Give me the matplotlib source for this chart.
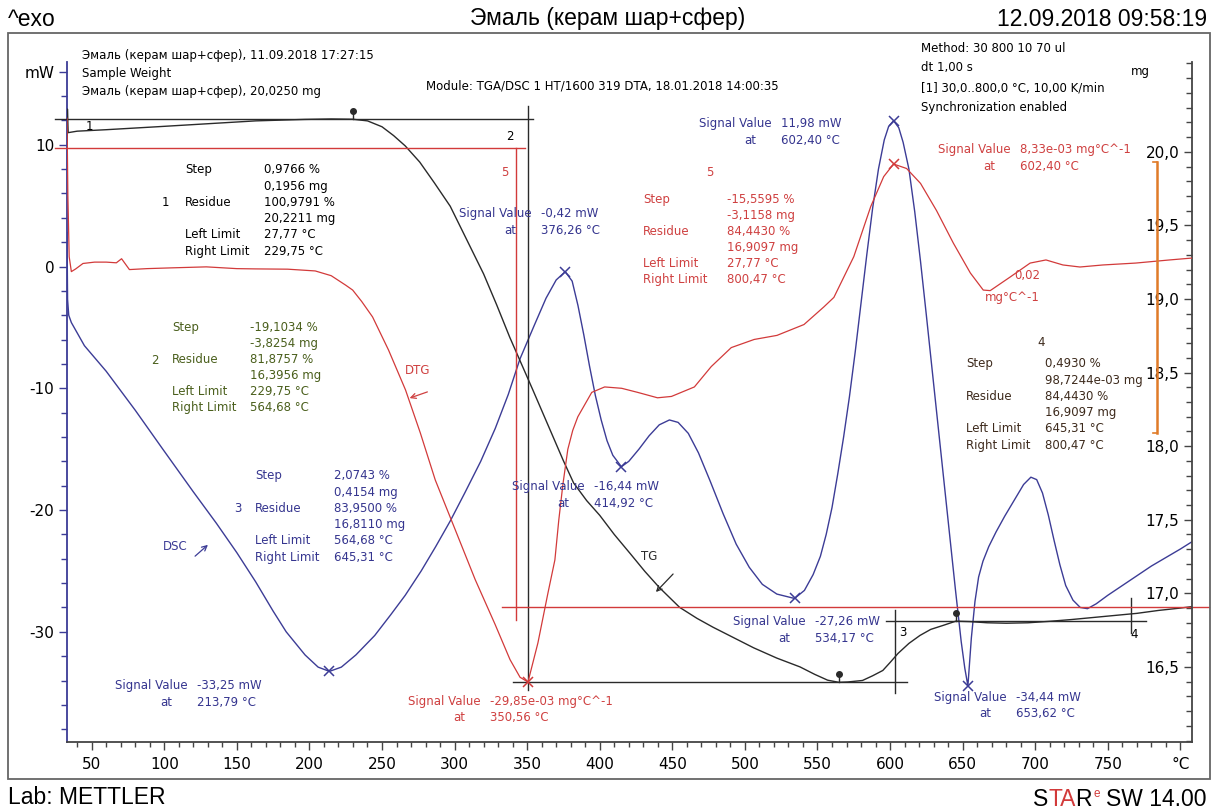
import numpy as np
import matplotlib
matplotlib.use('Agg')
import matplotlib.pyplot as plt
from matplotlib.patches import FancyArrowPatch
from matplotlib.ticker import MultipleLocator, FixedLocator

W, H = 1217, 810

### curve data
# DSC heat flow, mW
dsc_t = [33.0, 33.4, 34.2, 36.0, 45, 60, 80, 99, 120, 136, 150, 163, 175, 184, 197, 206,
         213.79, 222, 232, 245, 256, 266, 277, 287, 297, 307, 318, 328, 337, 345, 355, 363,
         370, 376.26, 381, 385, 389, 393, 397, 401, 405, 409, 414.92, 420, 427, 434, 441,
         448, 454, 461, 468, 476, 485, 494, 503, 512, 522, 534.17, 541, 547, 552, 556, 560,
         564, 568, 572, 576, 580, 584, 588, 592, 596, 599, 602.40, 606, 609, 613, 617, 621,
         625, 629, 633, 637, 641, 645, 649, 651.5, 653.62, 656, 658.5, 661, 664, 668, 673,
         679, 686, 692, 697, 701, 705, 709, 713, 717, 721, 726, 731, 736, 742, 750, 760,
         770, 780, 790, 800, 808]
dsc_mw = [2.8, -2.7, -4.0, -4.6, -6.5, -8.6, -11.8, -15.0, -18.5, -21.1, -23.5, -25.9,
          -28.3, -30.0, -31.9, -32.9, -33.25, -32.9, -31.9, -30.3, -28.6, -27.0, -25.0, -23.0,
          -20.9, -18.6, -16.0, -13.3, -10.5, -7.6, -4.8, -2.6, -1.1, -0.42, -1.2, -3.2, -5.6,
          -8.2, -10.6, -12.6, -14.3, -15.5, -16.44, -16.0, -15.0, -13.9, -13.0, -12.6, -12.8,
          -13.7, -15.3, -17.6, -20.3, -22.8, -24.7, -26.1, -26.9, -27.26, -26.6, -25.3,
          -23.8, -22.0, -19.8, -17.0, -14.0, -10.7, -7.0, -3.0, 1.0, 4.8, 8.0, 10.4, 11.5,
          11.98, 11.4, 10.2, 8.0, 4.5, 0.4, -4.0, -8.5, -13.0, -17.5, -22.0, -26.5, -30.8,
          -33.0, -34.44, -30.5, -27.5, -25.5, -24.2, -23.0, -21.8, -20.5, -19.1, -17.9,
          -17.3, -17.5, -18.6, -20.4, -22.5, -24.5, -26.2, -27.4, -28.0, -28.1, -27.7,
          -27.0, -26.2, -25.4, -24.6, -23.9, -23.2, -22.6]

# TG sample weight, mg
tg_t = [33.0, 33.3, 33.8, 40, 60, 95, 129, 163, 197, 215, 229.75, 240, 250, 258, 266, 276,
        286, 297, 308, 320, 329, 338, 346, 354, 361, 368, 375, 382, 391, 400, 410, 421, 431,
        441, 455, 467, 478, 492, 506, 522, 538, 548, 557, 564.68, 571, 581, 588, 595, 600,
        605.5, 613, 620.6, 628, 636.5, 645.31, 655, 667, 680, 695, 710, 725, 740, 755, 770,
        785, 800, 808]
tg_mg = [19.96, 20.29, 20.13, 20.14, 20.15, 20.17, 20.19, 20.21, 20.22, 20.223, 20.2211,
         20.21, 20.17, 20.11, 20.04, 19.93, 19.79, 19.63, 19.41, 19.17, 18.96, 18.74, 18.56,
         18.38, 18.22, 18.06, 17.90, 17.75, 17.63, 17.53, 17.40, 17.27, 17.15, 17.04, 16.905,
         16.83, 16.77, 16.70, 16.63, 16.56, 16.50, 16.45, 16.41, 16.3956, 16.398, 16.408,
         16.44, 16.476, 16.53, 16.592, 16.66, 16.714, 16.755, 16.782, 16.811, 16.808,
         16.800, 16.797, 16.800, 16.810, 16.822, 16.836, 16.850, 16.864, 16.884, 16.900,
         16.9097]

# DTG, 1e-03 mg/degC
dtg_t = [33.0, 33.6, 34.5, 36.0, 39, 44, 52, 60, 67, 70.6, 76, 88, 106, 129, 150, 163, 185,
         204, 215, 225, 229.8, 236, 243.5, 254.5, 266.2, 276.4, 286.7, 300.5, 314.2, 327.9,
         338.2, 345.1, 350.56, 357.4, 364.3, 369.1, 371.8, 374.6, 378.0, 381.4, 384.9,
         394.5, 403.4, 415.1, 426.1, 439.8, 449.4, 465.2, 476.8, 490.6, 506.4, 522.1, 540.7,
         554.4, 561.3, 575.0, 586.7, 595.6, 602.40, 611.4, 621.0, 632.0, 643.6, 655.3,
         664.2, 669.0, 682.7, 696.5, 707.4, 719.1, 730.8, 746.6, 769.2, 792.5, 808]
dtg_v = [11.7, 6.0, 1.5, 0.4, 0.6, 1.0, 1.1, 1.1, 1.05, 1.35, 0.55, 0.62, 0.68, 0.75, 0.62,
         0.6, 0.58, 0.45, 0.1, -0.6, -0.96, -1.8, -2.94, -5.38, -8.32, -11.49, -14.96,
         -18.64, -22.3, -25.6, -28.2, -29.5, -29.85, -26.97, -23.3, -20.85, -17.9, -15.3,
         -12.7, -11.3, -10.3, -8.5, -8.1, -8.2, -8.5, -8.9, -8.8, -8.1, -6.6, -5.2, -4.6,
         -4.3, -3.5, -2.2, -1.5, 1.5, 5.2, 7.4, 8.33, 8.0, 6.9, 4.9, 2.5, 0.3, -0.96, -1.0,
         0.0, 1.03, 1.26, 0.89, 0.74, 0.89, 1.03, 1.26, 1.4]

# evaluated extremes
dsc_pk_t = [213.79, 376.26, 414.92, 534.17, 602.40, 653.62]
dsc_pk_mw = [-33.25, -0.42, -16.44, -27.26, 11.98, -34.44]
dtg_pk_t = [350.56, 602.40]
dtg_pk_v = [-29.85, 8.33]

# step limits on TG
lim_t = [229.75, 564.68, 645.31]
lim_mg = [20.2211, 16.3956, 16.8110]

# step levels, mg
lvl_start = 20.025
lvl_1 = 20.2211
lvl_2 = 16.3956
lvl_3 = 16.8110
lvl_5 = 16.9097

c_dsc = '#3c3c96'
c_tg = '#2a2a2a'
c_dtg = '#d23a3a'
c_blue = '#35358f'
c_green = '#4a5f1c'
c_brown = '#3d2a1c'
c_red = '#cf4040'


def px(x, y):
    return x / W, 1 - y / H


fig = plt.figure(figsize=(W / 100, H / 100), dpi=100)
plt.rcParams['font.family'] = 'DejaVu Sans'

ax = fig.add_axes([67 / W, 68 / H, 1125 / W, 680 / H])
ax2 = ax.twinx()
ax3 = ax.twinx()

ax.set_xlim(33, 808)
ax.set_ylim(-39.05, 16.8)
ax2.set_ylim(15.99, 20.61)
ax3.set_ylim(-34.27, 15.85)
ax3.axis('off')

for a in (ax, ax2):
    a.spines['top'].set_visible(False)
ax.spines['right'].set_visible(False)
ax.spines['left'].set_color(c_dsc)
ax.spines['left'].set_linewidth(1.3)
ax.spines['bottom'].set_color('#444444')
ax.spines['bottom'].set_linewidth(1.3)
ax2.spines['right'].set_color('#444444')
ax2.spines['right'].set_linewidth(1.3)
ax2.spines['left'].set_visible(False)
ax2.spines['bottom'].set_visible(False)

# x axis
xt = list(range(50, 801, 50))
ax.set_xticks(xt)
ax.set_xticklabels([str(v) for v in xt[:-1]] + ['°C'])
ax.xaxis.set_minor_locator(MultipleLocator(10))
ax.tick_params(axis='x', which='major', length=6, width=1, color='#444444', labelsize=11, pad=5)
ax.tick_params(axis='x', which='minor', length=3.5, width=1, color='#444444')

# left axis, mW
ax.set_yticks([-30, -20, -10, 0, 10, 16])
ax.set_yticklabels(['-30', '-20', '-10', '0', '10', 'mW'])
ax.yaxis.set_minor_locator(FixedLocator(np.arange(-38, 17, 2)))
ax.tick_params(axis='y', which='major', length=6, width=1, color=c_dsc, labelsize=11, pad=3)
ax.tick_params(axis='y', which='minor', length=4, width=1, color=c_dsc)

# right axis, mg (labels inside)
rt = np.arange(16.5, 20.01, 0.5)
ax2.set_yticks(rt)
ax2.set_yticklabels([('%.1f' % v).replace('.', ',') for v in rt])
ax2.yaxis.set_minor_locator(FixedLocator(np.arange(16.0, 20.65, 0.1)))
ax2.tick_params(axis='y', which='major', direction='in', length=6, width=1, color='#444444',
                labelsize=11, pad=-9)
ax2.tick_params(axis='y', which='minor', direction='in', length=4, width=1, color='#444444')
for lab in ax2.get_yticklabels():
    lab.set_horizontalalignment('right')

# curves
ax.plot(dsc_t, dsc_mw, color=c_dsc, lw=1.0)
ax2.plot(tg_t, tg_mg, color=c_tg, lw=1.0)
ax3.plot(dtg_t, dtg_v, color=c_dtg, lw=0.9)

ax.plot(dsc_pk_t, dsc_pk_mw, ls='none', marker='x', ms=7, mew=1.1, color=c_dsc)
ax3.plot(dtg_pk_t, dtg_pk_v, ls='none', marker='x', ms=7, mew=1.1, color=c_dtg)

# pins at step limits
for t, m in zip(lim_t, lim_mg):
    ax2.plot([t, t], [m, m + 0.05], color=c_tg, lw=1.0)
    ax2.plot([t], [m + 0.055], marker='o', ms=4, color=c_tg)

# step evaluation lines
ax2.plot([25, 354], [lvl_1, lvl_1], color=c_tg, lw=1.0, clip_on=False)
ax2.plot([350.56, 350.56], [20.31, 16.34], color=c_tg, lw=1.0)
ax2.plot([340, 612], [lvl_2, lvl_2], color=c_tg, lw=1.0)
ax2.plot([603.4, 603.4], [16.885, 16.32], color=c_tg, lw=1.0)
ax2.plot([597, 776], [lvl_3, lvl_3], color=c_tg, lw=1.0)
ax2.plot([766, 766], [16.97, 16.73], color=c_tg, lw=1.0)
ax2.plot([25, 348.5], [lvl_start, lvl_start], color=c_dtg, lw=1.0, clip_on=False)
ax2.plot([342, 342], [lvl_start, 16.82], color=c_dtg, lw=1.0)
ax2.plot([333, 820], [lvl_5, lvl_5], color=c_dtg, lw=1.0, clip_on=False)

# DTG scale bar, 0.02 mg/degC
bar_top = 8.48
ax3.plot([784, 784], [bar_top, bar_top - 20], color='#e07b28', lw=1.8)
ax3.plot([781, 784], [bar_top, bar_top], color='#e07b28', lw=1.2)
ax3.plot([781, 784], [bar_top - 20, bar_top - 20], color='#e07b28', lw=1.2)

# frame and page texts
fig.add_artist(plt.Rectangle(px(8, 779), (1210 - 8) / W, (779 - 33) / H, fill=False,
                             lw=1.3, ec='#666666', transform=fig.transFigure))
hsz = 16.5
hf = dict(family='Liberation Sans', fontsize=hsz)
fig.text(*px(8, 19), '^exo', ha='left', va='center', **hf)
fig.text(*px(608, 19), 'Эмаль (керам шар+сфер)', ha='center', va='center', **hf)
fig.text(*px(1207, 19), '12.09.2018 09:58:19', ha='right', va='center', **hf)
fig.text(*px(8, 809), 'Lab: METTLER', ha='left', va='bottom', **hf)

# STARe logo text, laid out right to left
r = fig.canvas.get_renderer()
xr = 1206
for s, c, sz, dy, gap in [('SW 14.00', 'black', hsz, 0, 6), ('e', '#d23a3a', 8.5, -9, 1),
                          ('R', 'black', hsz, 0, 0), ('TA', '#d23a3a', hsz, 0, 0),
                          ('S', 'black', hsz, 0, 0)]:
    tx = fig.text(*px(xr, 806 + dy), s, ha='right', va='baseline', color=c,
                  family='Liberation Sans', fontsize=sz)
    xr -= tx.get_window_extent(r).width + gap

fs = 8.5


def t(x, y, s, c='black', ha='left'):
    fig.text(*px(x, y), s, color=c, ha=ha, va='center', fontsize=fs)


t(82, 55, 'Эмаль (керам шар+сфер), 11.09.2018 17:27:15')
t(82, 73, 'Sample Weight')
t(82, 92, 'Эмаль (керам шар+сфер), 20,0250 mg')
t(426, 86, 'Module: TGA/DSC 1 HT/1600 319 DTA, 18.01.2018 14:00:35')
t(921, 48, 'Method: 30 800 10 70 ul')
t(921, 68, 'dt 1,00 s')
t(921, 88, '[1] 30,0..800,0 °C, 10,00 K/min')
t(921, 107, 'Synchronization enabled')
t(1150, 72, 'mg', ha='right')


def block(xl, xv, y0, vals, c, num=None, numpos=None):
    names = ['Step', '', 'Residue', '', 'Left Limit', 'Right Limit']
    for i, (n, v) in enumerate(zip(names, vals)):
        y = y0 + i * 16.2
        if n:
            t(xl, y, n, c)
        t(xv, y, v, c)
    if num is not None:
        t(numpos[0], numpos[1], num, c)


block(185, 264, 170, ['0,9766 %', '0,1956 mg', '100,9791 %', '20,2211 mg', '27,77 °C',
                      '229,75 °C'], 'black', '1', (162, 202))
block(172, 250, 327, ['-19,1034 %', '-3,8254 mg', '81,8757 %', '16,3956 mg', '229,75 °C',
                      '564,68 °C'], c_green, '2', (151, 360))
block(255, 334, 476, ['2,0743 %', '0,4154 mg', '83,9500 %', '16,8110 mg', '564,68 °C',
                      '645,31 °C'], c_blue, '3', (234, 509))
block(643, 727, 199, ['-15,5595 %', '-3,1158 mg', '84,4430 %', '16,9097 mg', '27,77 °C',
                      '800,47 °C'], c_red, '5', (706, 172))
block(966, 1045, 364, ['0,4930 %', '98,7244e-03 mg', '84,4430 %', '16,9097 mg', '645,31 °C',
                       '800,47 °C'], c_brown, '4', (1037, 343))


def sig(xr, y, val, temp, c=c_blue):
    t(xr, y, 'Signal Value', c, ha='right')
    t(xr + 9, y, val, c)
    t(xr - 16, y + 16.5, 'at', c, ha='right')
    t(xr + 9, y + 16.5, temp, c)


sig(532, 214, '-0,42 mW', '376,26 °C')
sig(772, 124, '11,98 mW', '602,40 °C')
sig(585, 487, '-16,44 mW', '414,92 °C')
sig(188, 686, '-33,25 mW', '213,79 °C')
sig(481, 701, '-29,85e-03 mg°C^-1', '350,56 °C', c_red)
sig(806, 622, '-27,26 mW', '534,17 °C')
sig(1007, 697, '-34,44 mW', '653,62 °C')
sig(1011, 150, '8,33e-03 mg°C^-1', '602,40 °C', c_red)

# DTG scale label
t(1040, 276, '0,02', c_red, ha='right')
t(1040, 298, 'mg°C^-1', c_red, ha='right')

# step numbers
t(86, 127, '1')
t(506, 137, '2')
t(501, 172, '5', c_red)
t(899, 632, '3')
t(1130, 634, '4')

# curve names
t(405, 371, 'DTG', c_red)
t(163, 547, 'DSC', c_dsc)
t(641, 557, 'TG', c_tg)
arr = dict(arrowstyle='->', lw=0.9, mutation_scale=9, transform=fig.transFigure)
fig.add_artist(FancyArrowPatch(px(430, 391), px(407, 399), color=c_red, **arr))
fig.add_artist(FancyArrowPatch(px(193, 558), px(210, 543), color=c_dsc, **arr))
fig.add_artist(FancyArrowPatch(px(675, 572), px(654, 594), color=c_tg, **arr))

fig.savefig('out.png', dpi=100)
